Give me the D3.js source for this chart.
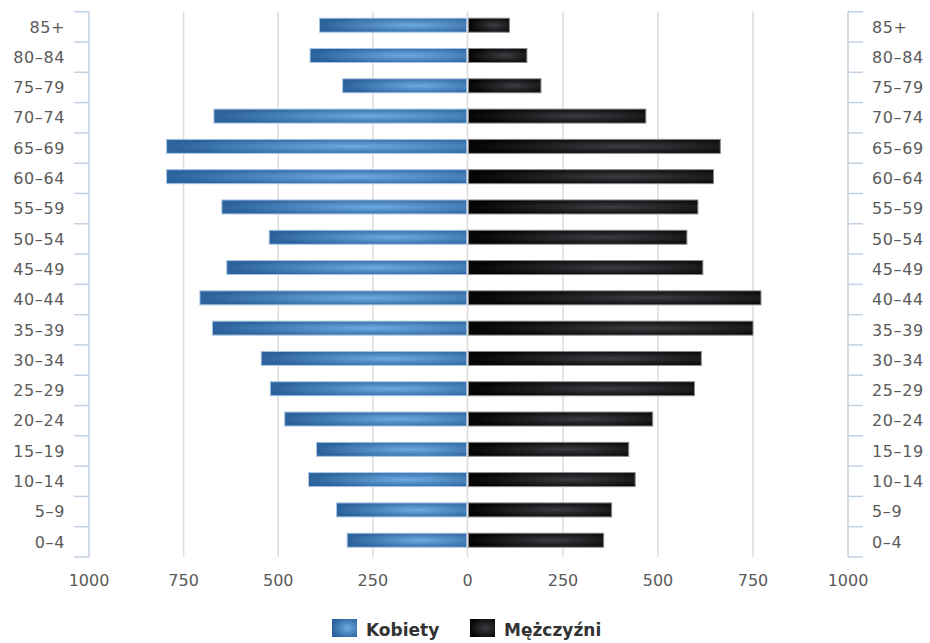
<!DOCTYPE html>
<html>
<head>
<meta charset="utf-8">
<script src="https://cdn.jsdelivr.net/npm/d3@7"></script>
<style>
    body { margin: 0; background: #fff; }
    #chart { width: 930px; height: 643px; }
    .axis-label { font-family: "DejaVu Sans", sans-serif; font-size: 16px; fill: #5a5a5a; }
    .legend-label { font-family: "DejaVu Sans", sans-serif; font-size: 17px; font-weight: bold; fill: #333; }
</style>
</head>
<body>
<div id="chart"></div>
<script>

// age groups, bottom to top
let ageGroups = ["0–4", "5–9", "10–14", "15–19", "20–24", "25–29", "30–34", "35–39", "40–44",
    "45–49", "50–54", "55–59", "60–64", "65–69", "70–74", "75–79", "80–84", "85+"];
let women = [318, 346, 420, 399, 483, 521, 545, 674, 707, 636, 524, 649, 795, 795, 670, 330, 416, 391];
let men = [357, 378, 440, 423, 486, 596, 614, 750, 771, 618, 576, 605, 646, 664, 468, 192, 155, 109];
let xTicks = [0, 250, 500, 750, 1000];
let seriesNames = ["Kobiety", "Mężczyźni"];

class Pyramid {

    constructor(parentElement, groups, left, right) {
        this.parentElement = parentElement;
        this.groups = groups;
        this.left = left;
        this.right = right;
        this.initVis();
    }

    initVis() {
        let vis = this;

        vis.width = 930;
        vis.height = 643;

        vis.svg = d3.select("#" + vis.parentElement).append("svg")
            .attr("width", vis.width)
            .attr("height", vis.height);

        let defs = vis.svg.append("defs");
        let blue = defs.append("radialGradient").attr("id", "grad-blue")
            .attr("cx", 0.62).attr("cy", 0.5).attr("r", 0.62);
        blue.append("stop").attr("offset", "0%").attr("stop-color", "#6eaae2");
        blue.append("stop").attr("offset", "100%").attr("stop-color", "#2c639c");
        let black = defs.append("radialGradient").attr("id", "grad-black")
            .attr("cx", 0.62).attr("cy", 0.5).attr("r", 0.62);
        black.append("stop").attr("offset", "0%").attr("stop-color", "#3c3c42");
        black.append("stop").attr("offset", "100%").attr("stop-color", "#050505");

        // scales - one for each side of the pyramid
        vis.xLeft = d3.scaleLinear().domain([0, 1000]).range([467.5, 89]);
        vis.xRight = d3.scaleLinear().domain([0, 1000]).range([468, 848]);
        vis.y = d3.scaleBand()
            .domain(vis.groups.slice().reverse())
            .range([11.7, 557]);

        vis.wrangleData();
    }

    wrangleData() {
        let vis = this;
        vis.rows = vis.groups.map((g, i) => ({group: g, left: vis.left[i], right: vis.right[i]}));
        vis.updateVis();
    }

    updateVis() {
        let vis = this;
        let top = vis.y.range()[0], bottom = vis.y.range()[1];

        // gridlines
        let grid = xTicks.filter(t => t < 1000);
        vis.svg.append("g").selectAll("line")
            .data(grid.map(t => vis.xLeft(t)).concat(grid.filter(t => t > 0).map(t => vis.xRight(t))))
            .join("line")
            .attr("x1", d => d).attr("x2", d => d)
            .attr("y1", top).attr("y2", bottom)
            .attr("stroke", "#dcdcdc")
            .attr("stroke-width", 1.5);

        // side axes with band-boundary ticks
        let bounds = vis.y.domain().map(d => vis.y(d)).concat([bottom]);
        [[vis.xLeft(1000), -15], [vis.xRight(1000), 15]].forEach(([ax, dir]) => {
            let g = vis.svg.append("g").attr("class", "axis");
            g.append("line")
                .attr("x1", ax).attr("x2", ax)
                .attr("y1", top).attr("y2", bottom)
                .attr("stroke", "#c3d1e0").attr("stroke-width", 1.5);
            g.selectAll(".tick").data(bounds).join("line")
                .attr("class", "tick")
                .attr("x1", ax).attr("x2", ax + dir)
                .attr("y1", d => d).attr("y2", d => d)
                .attr("stroke", "#c3d1e0").attr("stroke-width", 1.5);
        });

        // category labels
        let mid = d => vis.y(d) + vis.y.bandwidth() / 2;
        vis.svg.append("g").selectAll("text")
            .data(vis.y.domain()).join("text")
            .attr("class", "axis-label")
            .attr("x", 65).attr("y", mid)
            .attr("dy", "0.36em")
            .attr("text-anchor", "end")
            .attr("letter-spacing", 0.6)
            .text(d => d);
        vis.svg.append("g").selectAll("text")
            .data(vis.y.domain()).join("text")
            .attr("class", "axis-label")
            .attr("x", 872).attr("y", mid)
            .attr("dy", "0.36em")
            .attr("letter-spacing", 0.6)
            .text(d => d);

        // value labels along the bottom
        let xLabels = xTicks.map(t => ({t: t, x: vis.xLeft(t)}))
            .concat(xTicks.filter(t => t > 0).map(t => ({t: t, x: vis.xRight(t)})));
        vis.svg.append("g").selectAll("text")
            .data(xLabels).join("text")
            .attr("class", "axis-label")
            .attr("x", d => d.x).attr("y", 580)
            .attr("dy", "0.36em")
            .attr("text-anchor", "middle")
            .text(d => d.t);

        // bars
        let barH = 14;
        vis.svg.append("g").selectAll("rect")
            .data(vis.rows).join("rect")
            .attr("x", d => vis.xLeft(d.left))
            .attr("y", d => vis.y(d.group) + 6.5)
            .attr("width", d => vis.xLeft(0) - vis.xLeft(d.left) - 0.8)
            .attr("height", barH)
            .attr("fill", "url(#grad-blue)")
            .attr("stroke", "#a9c6e4")
            .attr("stroke-width", 1);
        vis.svg.append("g").selectAll("rect")
            .data(vis.rows).join("rect")
            .attr("x", vis.xRight(0) + 0.5)
            .attr("y", d => vis.y(d.group) + 6.5)
            .attr("width", d => vis.xRight(d.right) - vis.xRight(0) - 0.5)
            .attr("height", barH)
            .attr("fill", "url(#grad-black)")
            .attr("stroke", "#8a8a8a")
            .attr("stroke-width", 1);

        // legend
        let legend = vis.svg.append("g");
        let items = [{name: seriesNames[0], x: 332, fill: "url(#grad-blue)"},
                     {name: seriesNames[1], x: 470, fill: "url(#grad-black)"}];
        legend.selectAll("rect").data(items).join("rect")
            .attr("x", d => d.x).attr("y", 619)
            .attr("width", 25).attr("height", 18)
            .attr("fill", d => d.fill);
        legend.selectAll("text").data(items).join("text")
            .attr("class", "legend-label")
            .attr("x", d => d.x + 34).attr("y", 636)
            .text(d => d.name);
    }
}

new Pyramid("chart", ageGroups, women, men);

</script>
</body>
</html>
